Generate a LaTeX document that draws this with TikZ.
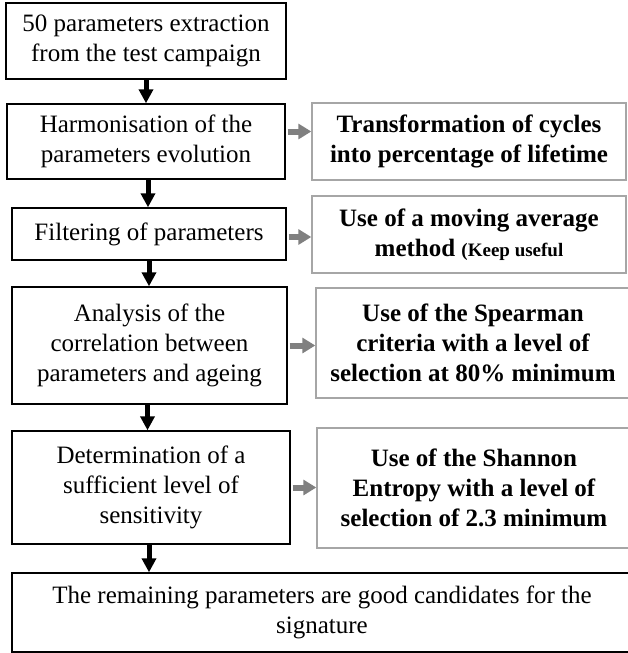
\documentclass[tikz,border=0pt]{standalone}
\usepackage{fontspec}
\setmainfont{Liberation Serif}
\usetikzlibrary{arrows.meta}

\tikzset{
  stepbox/.style={draw,line width=0.7pt,align=center,inner sep=0pt,
    font=\fontsize{12.5}{15}\selectfont},
  methodbox/.style={draw=black!35,line width=0.7pt,align=center,inner sep=0pt,
    font=\fontsize{12.5}{15}\selectfont\bfseries},
  flow/.style={line width=2.5pt,-{Triangle[width=7pt,length=7pt]}},
  link/.style={draw=black!50,line width=3pt,-{Triangle[width=7.5pt,length=6.5pt]}}
}

\begin{document}
\begin{tikzpicture}[x=0.5pt,y=-0.5pt]
  \useasboundingbox (0,0) rectangle (627,653);
  % main steps
  \node[stepbox,minimum width=140pt,minimum height=38pt] (extract) at (146,41)
    {50 parameters extraction\\from the test campaign};
  \node[stepbox,minimum width=139pt,minimum height=37.5pt] (harmon) at (146,141.5)
    {Harmonisation of the\\parameters evolution};
  \node[stepbox,minimum width=137pt,minimum height=26pt] (filter) at (149,234)
    {Filtering of parameters};
  \node[stepbox,minimum width=137.5pt,minimum height=58.5pt] (corr) at (149.5,345.5)
    {Analysis of the\\correlation between\\parameters and ageing};
  \node[stepbox,minimum width=139pt,minimum height=56.5pt] (sens) at (151,487.5)
    {Determination of a\\sufficient level of\\sensitivity};
  \node[stepbox,minimum width=310pt,minimum height=39.5pt] (result) at (322,612.5)
    {The remaining parameters are good candidates for the\\signature};
  % methods
  \node[methodbox,minimum width=157pt,minimum height=38.5pt] (cycles) at (469,141.5)
    {Transformation of cycles\\into percentage of lifetime};
  \node[methodbox,minimum width=157pt,minimum height=38.5pt] (average) at (469,234.5)
    {Use of a moving average\\method {\fontsize{9.5}{11}\selectfont(Keep useful}};
  \node[methodbox,minimum width=157pt,minimum height=55pt] (spearman) at (473,343)
    {Use of the Spearman\\criteria with a level of\\selection at 80\% minimum};
  \node[methodbox,minimum width=157pt,minimum height=60pt] (shannon) at (474,488)
    {Use of the Shannon\\Entropy with a level of\\selection of 2.3 minimum};
  % connectors
  \draw[flow] (extract.south) -- (extract.south |- harmon.north);
  \draw[flow] ([xshift=1pt]harmon.south) -- ([xshift=1pt]harmon.south |- filter.north);
  \draw[flow] (filter.south) -- (filter.south |- corr.north);
  \draw[flow] ([xshift=-1pt]corr.south) -- ([xshift=-1pt]corr.south |- sens.north);
  \draw[flow] ([xshift=-1pt]sens.south) -- ([xshift=-1pt]sens.south |- result.north);
  \draw[link] ([xshift=1pt,yshift=5pt]harmon.east) -- ([yshift=5pt]harmon.east -| cycles.west);
  \draw[link] ([xshift=1pt,yshift=-1.5pt]filter.east) -- ([yshift=-1.5pt]filter.east -| average.west);
  \draw[link] ([xshift=1pt]corr.east) -- (corr.east -| spearman.west);
  \draw[link] ([xshift=1pt]sens.east) -- (sens.east -| shannon.west);
\end{tikzpicture}
\end{document}
